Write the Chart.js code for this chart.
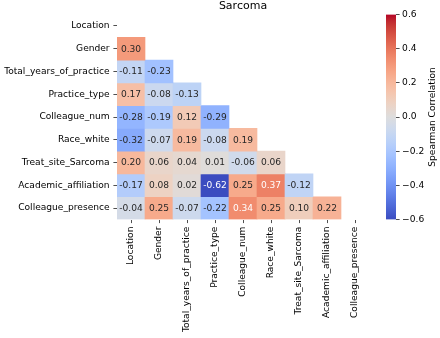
<!DOCTYPE html>
<html><head><meta charset="utf-8">
<script src="https://cdn.jsdelivr.net/npm/chart.js@4.4.1/dist/chart.umd.min.js"></script>
<style>
html,body{margin:0;padding:0;background:#fff;width:440px;height:338px;overflow:hidden}
#wrap{position:relative;width:440px;height:338px}
canvas{position:absolute;left:0;top:0}
</style></head><body>
<div id="wrap"><canvas id="main" width="440" height="338"></canvas><canvas id="cbar" width="440" height="338"></canvas></div>
<script>
// ---- data ----
const chartTitle = 'Sarcoma';
const colorbarLabel = 'Spearman Correlation';
const variables = ['Location','Gender','Total_years_of_practice','Practice_type','Colleague_num','Race_white','Treat_site_Sarcoma','Academic_affiliation','Colleague_presence'];
const corrLocation = [];
const corrGender = [0.30];
const corrTotalYears = [-0.11, -0.23];
const corrPracticeType = [0.17, -0.08, -0.13];
const corrColleagueNum = [-0.28, -0.19, 0.12, -0.29];
const corrRaceWhite = [-0.32, -0.07, 0.19, -0.08, 0.19];
const corrTreatSite = [0.20, 0.06, 0.04, 0.01, -0.06, 0.06];
const corrAcademic = [-0.17, 0.08, 0.02, -0.62, 0.25, 0.37, -0.12];
const corrColleaguePresence = [-0.04, 0.25, -0.07, -0.22, 0.34, 0.25, 0.10, 0.22];
const colorbarTicks = [0.6, 0.4, 0.2, 0.0, -0.2, -0.4, -0.6];
const vmin = -0.6, vmax = 0.6;

const rows = [corrLocation, corrGender, corrTotalYears, corrPracticeType, corrColleagueNum, corrRaceWhite, corrTreatSite, corrAcademic, corrColleaguePresence];

// coolwarm colormap table
const coolwarm = [[59,76,192],[68,90,204],[77,104,215],[87,117,225],[98,130,234],[108,142,241],[119,154,247],[130,165,251],[141,176,254],[152,185,255],[163,194,255],[174,201,253],[184,208,249],[194,213,244],[204,217,238],[213,219,230],[221,221,221],[229,216,209],[236,211,197],[241,204,184],[245,196,172],[247,187,160],[247,177,148],[247,166,135],[244,154,123],[241,141,111],[236,127,99],[229,112,88],[222,96,77],[213,80,66],[203,62,56],[192,40,47],[180,4,38]];
function cmapRGB(t){
  t = Math.max(0, Math.min(1, t));
  const p = t*(coolwarm.length-1), i = Math.min(Math.floor(p), coolwarm.length-2), f = p-i;
  return coolwarm[i].map((c,k)=> c + (coolwarm[i+1][k]-c)*f);
}
function colorFor(v){ const c = cmapRGB((v-vmin)/(vmax-vmin)); return `rgb(${c.map(Math.round).join(',')})`; }
function textColorFor(v){
  const c = cmapRGB((v-vmin)/(vmax-vmin)).map(x=>{x/=255; return x<=0.03928 ? x/12.92 : Math.pow((x+0.055)/1.055, 2.4);});
  const lum = 0.2126*c[0]+0.7152*c[1]+0.0722*c[2];
  return lum > 0.408 ? 'rgb(38,38,38)' : '#ffffff';
}

const FONT = 'DejaVu Sans';
const FS = 9.1;
const datasets = rows.map((vals, r) => ({
  label: variables[r],
  values: variables.map((c, j) => j < vals.length ? vals[j] : null),
  data: variables.map((c, j) => j < vals.length ? [r, r+1] : null),
  backgroundColor: variables.map((c, j) => j < vals.length ? colorFor(vals[j]) : 'rgba(0,0,0,0)'),
  borderWidth: 0,
  barPercentage: 1,
  categoryPercentage: 1,
  grouped: false
}));

const annotate = {
  id: 'annotate',
  afterDatasetsDraw(chart){
    const ctx = chart.ctx;
    ctx.save();
    ctx.font = `${FS}px "${FONT}"`;
    ctx.textAlign = 'center';
    ctx.textBaseline = 'middle';
    chart.data.datasets.forEach((ds, i) => {
      const meta = chart.getDatasetMeta(i);
      meta.data.forEach((el, j) => {
        const v = ds.values[j];
        if (v == null) return;
        ctx.fillStyle = textColorFor(v);
        ctx.fillText(v.toFixed(2), el.x, (el.y + el.base)/2 + 0.5);
      });
    });
    const a = chart.chartArea;
    ctx.fillStyle = '#000';
    ctx.font = `11px "${FONT}"`;
    ctx.fillText(chartTitle, (a.left + a.right)/2, 6.5);
    ctx.restore();
  }
};

const tickGrid = {display:true, drawOnChartArea:false, drawTicks:true, tickLength:3.6, color:'#222', lineWidth:0.8, offset:false};

new Chart(document.getElementById('main'), {
  type: 'bar',
  data: { labels: variables, datasets },
  options: {
    responsive: false, animation: false,
    layout: { padding: { top: 14.5, right: 71, left: 0, bottom: 0 } },
    plugins: { legend: { display: false }, tooltip: { enabled: false } },
    scales: {
      x: {
        type: 'category', offset: true,
        grid: tickGrid, border: { display: false },
        ticks: { autoSkip: false, maxRotation: 90, minRotation: 90, padding: 3.5, color: '#000', font: { family: FONT, size: FS } },
        afterFit: s => { s.height = 118.5; }
      },
      y: {
        type: 'linear', reverse: true, min: 0, max: variables.length,
        afterBuildTicks: s => { s.ticks = variables.map((_, i) => ({ value: i + 0.5 })); },
        grid: tickGrid, border: { display: false },
        ticks: { padding: 3.8, color: '#000', font: { family: FONT, size: FS }, callback: v => variables[Math.round(v - 0.5)] },
        afterFit: s => { s.width = 117; }
      }
    }
  },
  plugins: [annotate]
});

// ---- colorbar ----
const cbLabel = {
  id: 'cbLabel',
  afterDraw(chart){
    const ctx = chart.ctx, a = chart.chartArea;
    ctx.save();
    ctx.fillStyle = '#000';
    ctx.font = `${FS}px "${FONT}"`;
    ctx.textAlign = 'center';
    ctx.textBaseline = 'middle';
    ctx.translate(433, (a.top + a.bottom)/2);
    ctx.rotate(-Math.PI/2);
    ctx.fillText(colorbarLabel, 0, 0);
    ctx.restore();
  }
};
new Chart(document.getElementById('cbar'), {
  type: 'bar',
  data: { labels: [''], datasets: [{
    data: [[vmin, vmax]],
    borderWidth: 0, barPercentage: 1, categoryPercentage: 1,
    backgroundColor: (c) => {
      const ch = c.chart, a = ch.chartArea;
      if (!a) return 'rgba(0,0,0,0)';
      const g = ch.ctx.createLinearGradient(0, a.bottom, 0, a.top);
      coolwarm.forEach((col, i) => g.addColorStop(i/(coolwarm.length-1), `rgb(${col.join(',')})`));
      return g;
    }
  }]},
  options: {
    responsive: false, animation: false,
    layout: { padding: { left: 386, top: 14.5, bottom: 118.5, right: 0 } },
    plugins: { legend: { display: false }, tooltip: { enabled: false } },
    scales: {
      x: { display: false },
      y: {
        position: 'right', min: vmin, max: vmax,
        afterBuildTicks: s => { s.ticks = colorbarTicks.map(v => ({ value: v })); },
        grid: { display: true, drawOnChartArea: false, drawTicks: true, tickLength: 3.6, color: '#222', lineWidth: 0.8 },
        border: { display: false },
        ticks: { padding: 2.5, color: '#000', font: { family: FONT, size: FS },
          callback: v => (v < -1e-9 ? '\u2212' : '') + Math.abs(v).toFixed(1) },
        afterFit: s => { s.width = 44; }
      }
    }
  },
  plugins: [cbLabel]
});
</script>
</body></html>
